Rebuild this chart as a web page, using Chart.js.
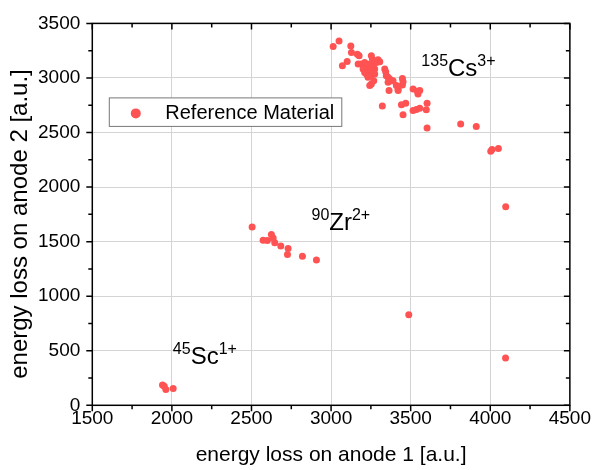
<!DOCTYPE html>
<html>
<head>
<meta charset="utf-8">
<script src="https://cdn.jsdelivr.net/npm/chart.js@4/dist/chart.umd.min.js"></script>
<style>
  html, body { margin: 0; padding: 0; background: #fff; }
  #wrap { width: 593px; height: 470px; }
</style>
</head>
<body>
<div id="wrap"><canvas id="c" width="593" height="470"></canvas></div>
<script>
// ---- data ----
const seriesName = 'Reference Material';
const xTitle = 'energy loss on anode 1 [a.u.]';
const yTitle = 'energy loss on anode 2 [a.u.]';
const xTicks = [1500, 2000, 2500, 3000, 3500, 4000, 4500];
const yTicks = [0, 500, 1000, 1500, 2000, 2500, 3000, 3500];

// 135Cs3+ group
const csAnode1 = [3013, 3050, 3124, 3128, 3071, 3101, 3165, 3176,
  3170, 3190, 3211, 3222, 3243, 3253, 3260, 3264, 3274, 3285, 3295, 3306,
  3201, 3211, 3232, 3243, 3253, 3232, 3264, 3274, 3222, 3243, 3253, 3243, 3268,
  3337, 3343, 3347, 3358, 3368, 3358, 3379, 3389, 3410, 3448, 3452, 3448, 3421, 3364, 3421,
  3515, 3542, 3557, 3546,
  3322, 3442, 3469, 3452, 3515, 3536, 3557, 3603, 3598, 3603, 3814, 3912,
  4003, 4011, 4051, 4097];
const csAnode2 = [3288, 3339, 3294, 3233, 3112, 3151, 3218, 3203,
  3127, 3127, 3142, 3112, 3127, 3203, 3172, 3112, 3081, 3142, 3166, 3148,
  3081, 3051, 3066, 3036, 3021, 3006, 3051, 3036, 3036, 3081, 2945, 2930, 2975,
  3081, 3057, 3021, 3006, 2990, 2960, 2975, 2975, 2930, 2996, 2966, 2936, 2899, 2884, 2884,
  2899, 2878, 2884, 2854,
  2742, 2754, 2769, 2663, 2702, 2711, 2723, 2769, 2708, 2541, 2578, 2554,
  2329, 2344, 2353, 1820];

// 90Zr2+ group
const zrAnode1 = [2504, 2573, 2600, 2625, 2636, 2646, 2684, 2730, 2726, 2820, 2908];
const zrAnode2 = [1634, 1513, 1510, 1565, 1534, 1489, 1459, 1437, 1383, 1365, 1331];

// 45Sc1+ group
const scAnode1 = [1941, 1952, 1962, 2008];
const scAnode2 = [185, 175, 145, 154];

// isolated events
const otherAnode1 = [3488, 4096];
const otherAnode2 = [831, 433];

// ion labels
const ionMass = ['135', '90', '45'];
const ionSymbol = ['Cs', 'Zr', 'Sc'];
const ionCharge = ['3+', '2+', '1+'];
const ionLabelX = [3567, 2877, 2006];
const ionLabelY = [3021, 1611, 382];

// ---- build points ----
function pts(xs, ys) { return xs.map((v, i) => ({ x: v, y: ys[i] })); }
const allPoints = [].concat(
  pts(csAnode1, csAnode2), pts(zrAnode1, zrAnode2),
  pts(scAnode1, scAnode2), pts(otherAnode1, otherAnode2));

const FONT = '"Liberation Sans", Arial, Helvetica, sans-serif';
const DOT = '#ff5353';
const GRID = '#d4d4d4';

const framePlugin = {
  id: 'frameTicks',
  afterDatasetsDraw(chart) {
    const { ctx, chartArea: a, scales: { x, y } } = chart;
    ctx.save();
    ctx.strokeStyle = '#000';
    ctx.lineWidth = 1.5;
    ctx.beginPath();
    const xStep = xTicks[1] - xTicks[0];
    const yStep = yTicks[1] - yTicks[0];
    for (let i = 0; i < xTicks.length; i++) {
      for (let k = 0; k < 2; k++) {
        const v = xTicks[i] + k * xStep / 2;
        if (v > xTicks[xTicks.length - 1]) continue;
        const px = x.getPixelForValue(v);
        const L = k === 0 ? 6 : 4;
        ctx.moveTo(px, a.bottom); ctx.lineTo(px, a.bottom + L);
        ctx.moveTo(px, a.top); ctx.lineTo(px, a.top + L);
      }
    }
    for (let i = 0; i < yTicks.length; i++) {
      for (let k = 0; k < 2; k++) {
        const v = yTicks[i] + k * yStep / 2;
        if (v > yTicks[yTicks.length - 1]) continue;
        const py = y.getPixelForValue(v);
        const L = k === 0 ? 6 : 4;
        ctx.moveTo(a.left, py); ctx.lineTo(a.left - L, py);
        ctx.moveTo(a.right, py); ctx.lineTo(a.right - L, py);
      }
    }
    ctx.stroke();
    ctx.strokeRect(a.left, a.top, a.right - a.left, a.bottom - a.top);

    // ion labels
    ctx.fillStyle = '#000';
    ctx.textBaseline = 'alphabetic';
    ctx.textAlign = 'left';
    for (let i = 0; i < ionSymbol.length; i++) {
      let px = x.getPixelForValue(ionLabelX[i]);
      const py = y.getPixelForValue(ionLabelY[i]);
      ctx.font = '16px ' + FONT;
      ctx.fillText(ionMass[i], px, py - 9.5);
      px += ctx.measureText(ionMass[i]).width;
      ctx.font = '24px ' + FONT;
      ctx.fillText(ionSymbol[i], px, py);
      px += ctx.measureText(ionSymbol[i]).width;
      ctx.font = '16px ' + FONT;
      ctx.fillText(ionCharge[i], px, py - 9.5);
    }

    // y axis title
    ctx.save();
    ctx.translate(20, 224);
    ctx.rotate(-Math.PI / 2);
    ctx.textAlign = 'center';
    ctx.textBaseline = 'middle';
    ctx.font = '24px ' + FONT;
    ctx.fillText(yTitle, 0, 0);
    ctx.restore();

    // legend box
    const lx = a.left + 17, ly = a.top + 74.5, lw = 232.5, lh = 28.5;
    ctx.fillStyle = '#fff';
    ctx.fillRect(lx, ly, lw, lh);
    ctx.lineWidth = 1;
    ctx.strokeStyle = '#777';
    ctx.strokeRect(lx, ly, lw, lh);
    ctx.fillStyle = DOT;
    ctx.beginPath();
    ctx.arc(lx + 26.5, ly + 15.5, 5, 0, Math.PI * 2);
    ctx.fill();
    ctx.fillStyle = '#000';
    ctx.font = '20px ' + FONT;
    ctx.textBaseline = 'middle';
    ctx.textAlign = 'left';
    ctx.fillText(seriesName, lx + 56, ly + 15.5);
    ctx.restore();
  }
};

new Chart(document.getElementById('c'), {
  type: 'scatter',
  data: {
    datasets: [{
      label: seriesName,
      data: allPoints,
      backgroundColor: DOT,
      borderColor: DOT,
      borderWidth: 0,
      pointRadius: 3.5,
      pointHoverRadius: 3.5
    }]
  },
  options: {
    responsive: false,
    animation: false,
    layout: { padding: { top: 20.7, right: 22.7, left: 0, bottom: 0 } },
    plugins: { legend: { display: false }, tooltip: { enabled: false } },
    scales: {
      x: {
        type: 'linear',
        min: xTicks[0],
        max: xTicks[xTicks.length - 1],
        afterBuildTicks(s) { s.ticks = xTicks.map(v => ({ value: v })); },
        afterFit(s) { s.height = 64.7; },
        grid: {
          drawTicks: false,
          color: c => (c.tick && (c.tick.value === xTicks[0] || c.tick.value === xTicks[xTicks.length - 1])) ? 'rgba(0,0,0,0)' : GRID,
          lineWidth: 1
        },
        border: { display: false },
        ticks: { color: '#000', font: { family: FONT, size: 19 }, padding: 2, maxRotation: 0, callback: v => String(v) },
        title: { display: true, text: xTitle, color: '#000', font: { family: FONT, size: 21 }, padding: { top: 0, bottom: 2 } }
      },
      y: {
        type: 'linear',
        min: yTicks[0],
        max: yTicks[yTicks.length - 1],
        afterBuildTicks(s) { s.ticks = yTicks.map(v => ({ value: v })); },
        afterFit(s) { s.width = 92.3; },
        grid: {
          drawTicks: false,
          color: c => (c.tick && (c.tick.value === yTicks[0] || c.tick.value === yTicks[yTicks.length - 1])) ? 'rgba(0,0,0,0)' : GRID,
          lineWidth: 1
        },
        border: { display: false },
        ticks: { color: '#000', font: { family: FONT, size: 19 }, padding: 12, callback: v => String(v) },
        title: { display: false, text: yTitle }
      }
    }
  },
  plugins: [framePlugin]
});
</script>
</body>
</html>
